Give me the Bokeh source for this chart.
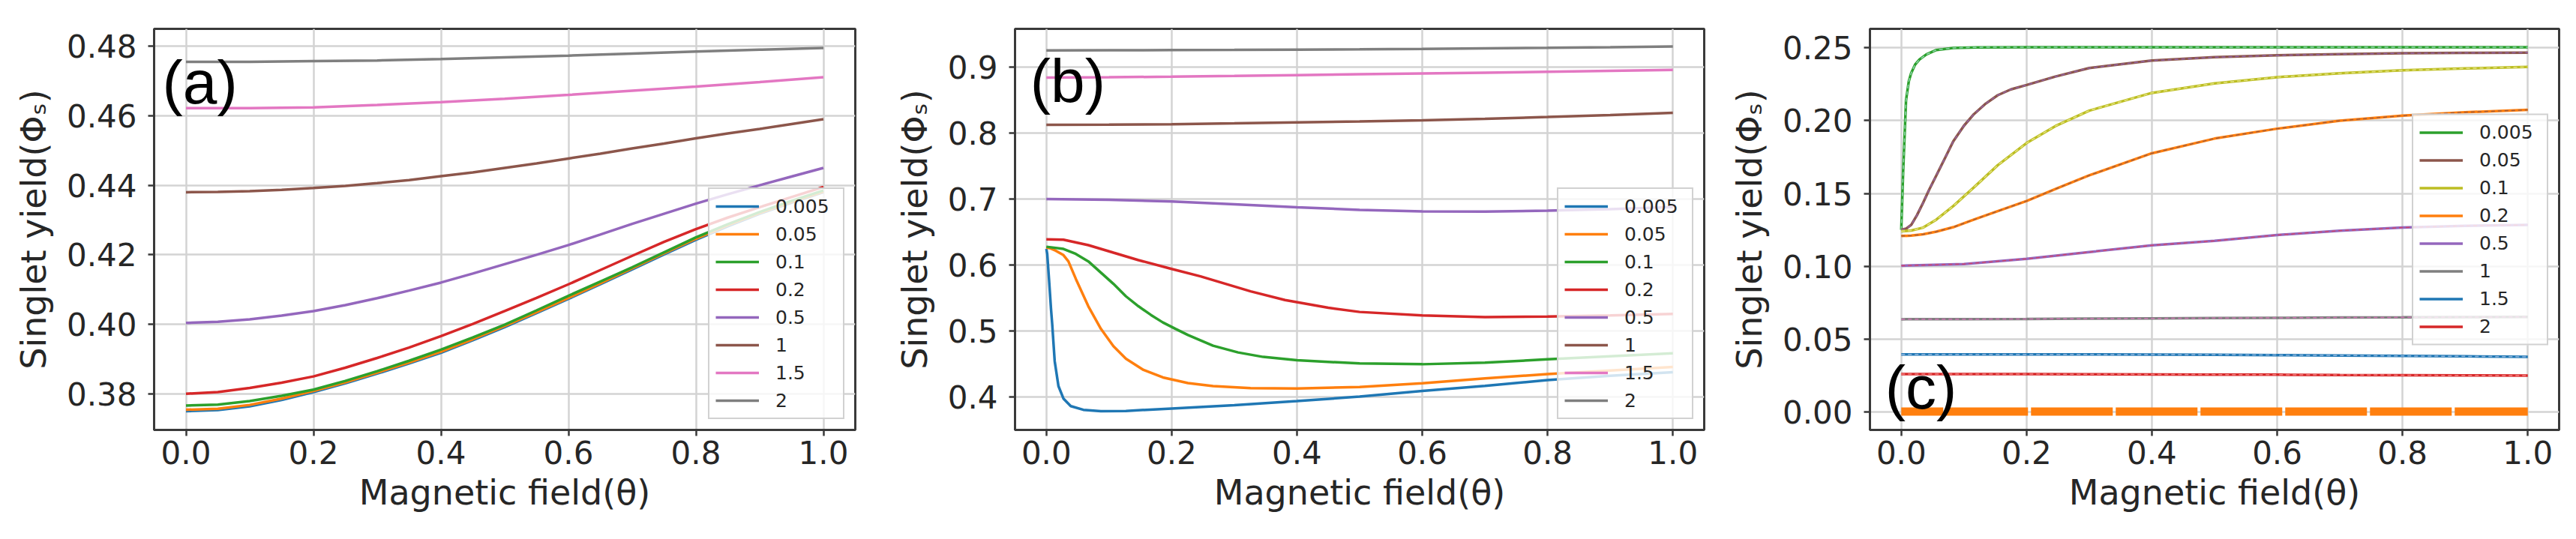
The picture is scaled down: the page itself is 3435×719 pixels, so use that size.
from bokeh.plotting import figure
from bokeh.layouts import row
from bokeh.models import Range1d, FixedTicker, PrintfTickFormatter, Legend, LegendItem, Label
from bokeh.embed import file_html
from bokeh.resources import INLINE

# ---------------- data ----------------
series_labels = ["0.005", "0.05", "0.1", "0.2", "0.5", "1", "1.5", "2"]
x_ticks = [0.0, 0.2, 0.4, 0.6, 0.8, 1.0]

# panel (a)
xa = [0.0, 0.05, 0.1, 0.15, 0.2, 0.25, 0.3, 0.35, 0.4, 0.45, 0.5, 0.55, 0.6, 0.65,
      0.7, 0.75, 0.8, 0.85, 0.9, 0.95, 1.0]
a_0005 = [0.3750, 0.3753, 0.3764, 0.3782, 0.3805, 0.3830, 0.3858, 0.3887, 0.3918, 0.3954,
          0.3992, 0.4032, 0.4073, 0.4115, 0.4158, 0.4201, 0.4243, 0.4282, 0.4318, 0.4350, 0.4380]
a_005 = [0.3754, 0.3757, 0.3768, 0.3786, 0.3808, 0.3833, 0.3861, 0.3890, 0.3921, 0.3957,
         0.3995, 0.4035, 0.4076, 0.4118, 0.4161, 0.4204, 0.4246, 0.4285, 0.4320, 0.4352, 0.4382]
a_01 = [0.3766, 0.3769, 0.3779, 0.3794, 0.3812, 0.3837, 0.3865, 0.3895, 0.3927, 0.3962,
        0.3999, 0.4040, 0.4082, 0.4123, 0.4164, 0.4207, 0.4250, 0.4288, 0.4323, 0.4355, 0.4385]
a_02 = [0.3800, 0.3805, 0.3817, 0.3832, 0.3850, 0.3875, 0.3903, 0.3933, 0.3966, 0.4001,
        0.4038, 0.4076, 0.4115, 0.4156, 0.4197, 0.4237, 0.4274, 0.4307, 0.4337, 0.4366, 0.4395]
a_05 = [0.4004, 0.4007, 0.4014, 0.4025, 0.4038, 0.4055, 0.4075, 0.4097, 0.4120, 0.4146,
        0.4173, 0.4200, 0.4228, 0.4258, 0.4289, 0.4318, 0.4347, 0.4374, 0.4400, 0.4425, 0.4450]
a_1 = [0.4380, 0.4381, 0.4383, 0.4387, 0.4392, 0.4398, 0.4406, 0.4415, 0.4426, 0.4437,
       0.4450, 0.4463, 0.4477, 0.4491, 0.4506, 0.4520, 0.4535, 0.4549, 0.4562, 0.4576, 0.4590]
xa_coarse = [0.0, 0.1, 0.2, 0.3, 0.4, 0.5, 0.6, 0.7, 0.8, 0.9, 1.0]
a_15 = [0.4622, 0.4622, 0.4624, 0.4631, 0.4639, 0.4649, 0.4660, 0.4672, 0.4684, 0.4697, 0.4711]
a_2 = [0.4755, 0.4755, 0.4757, 0.4759, 0.4763, 0.4768, 0.4773, 0.4779, 0.4785, 0.4790, 0.4795]
a_yticks = [0.38, 0.40, 0.42, 0.44, 0.46, 0.48]

# panel (b)
xb_blue = [0.0, 0.0014, 0.0042, 0.0074, 0.0093, 0.0133, 0.0193, 0.0273, 0.039, 0.059,
           0.087, 0.127, 0.2, 0.3, 0.4, 0.5, 0.6, 0.7, 0.8, 0.9, 1.0]
b_0005 = [0.6247, 0.6170, 0.5794, 0.5340, 0.5113, 0.4547, 0.4169, 0.3980, 0.3866, 0.3810,
          0.3790, 0.3793, 0.3829, 0.3880, 0.3942, 0.4010, 0.4095, 0.4172, 0.4260, 0.4325, 0.4380]
xb_orange = [0.0, 0.0068, 0.015, 0.0273, 0.0352, 0.047, 0.067, 0.087, 0.107, 0.127, 0.155,
             0.186, 0.226, 0.266, 0.326, 0.4, 0.5, 0.6, 0.7, 0.8, 0.9, 1.0]
b_005 = [0.6266, 0.6255, 0.6220, 0.6153, 0.6058, 0.5794, 0.5378, 0.5037, 0.4773, 0.4584,
         0.4414, 0.4300, 0.4214, 0.4169, 0.4138, 0.4133, 0.4155, 0.4212, 0.4285, 0.4352,
         0.4405, 0.4458]
xb_green = [0.0, 0.0273, 0.047, 0.067, 0.087, 0.107, 0.127, 0.147, 0.167, 0.186, 0.206,
            0.226, 0.266, 0.306, 0.346, 0.4, 0.5, 0.6, 0.7, 0.8, 0.9, 1.0]
b_01 = [0.6280, 0.6247, 0.6171, 0.6058, 0.5888, 0.5718, 0.5529, 0.5378, 0.5246, 0.5133,
        0.5037, 0.4943, 0.4781, 0.4679, 0.4611, 0.4560, 0.4512, 0.4500, 0.4525, 0.4574,
        0.4620, 0.4667]
xb_red = [0.0, 0.0273, 0.067, 0.107, 0.147, 0.2, 0.246, 0.286, 0.326, 0.381, 0.45, 0.5,
          0.6, 0.7, 0.8, 0.9, 1.0]
b_02 = [0.6391, 0.6387, 0.6304, 0.6190, 0.6077, 0.5944, 0.5831, 0.5718, 0.5604, 0.5473,
        0.5355, 0.5292, 0.5239, 0.5213, 0.5223, 0.5240, 0.5262]
xb_coarse = [0.0, 0.1, 0.2, 0.3, 0.4, 0.5, 0.6, 0.7, 0.8, 0.9, 1.0]
b_05 = [0.7003, 0.6990, 0.6965, 0.6922, 0.6878, 0.6838, 0.6814, 0.6812, 0.6825, 0.6850, 0.6880]
b_1 = [0.8126, 0.8129, 0.8135, 0.8148, 0.8163, 0.8177, 0.8194, 0.8218, 0.8245, 0.8275, 0.8307]
b_15 = [0.8843, 0.8848, 0.8855, 0.8867, 0.8880, 0.8893, 0.8905, 0.8917, 0.8930, 0.8944, 0.8958]
b_2 = [0.9254, 0.9255, 0.9258, 0.9261, 0.9265, 0.9270, 0.9277, 0.9285, 0.9293, 0.9302, 0.9312]
b_yticks = [0.4, 0.5, 0.6, 0.7, 0.8, 0.9]

# panel (c)
xc_green = [0.0, 0.003, 0.0076, 0.012, 0.0157, 0.022, 0.029, 0.04, 0.056, 0.083, 0.12,
            0.2, 0.4, 0.6, 0.8, 1.0]
c_0005 = [0.1250, 0.1650, 0.2140, 0.2270, 0.2326, 0.2385, 0.2420, 0.2455, 0.2486, 0.2500,
          0.2504, 0.2505, 0.2505, 0.2505, 0.2505, 0.2505]
xc_brown = [0.0, 0.008, 0.016, 0.025, 0.035, 0.045, 0.056, 0.07, 0.083, 0.1, 0.116, 0.135,
            0.154, 0.175, 0.2, 0.246, 0.3, 0.4, 0.5, 0.6, 0.7, 0.8, 0.9, 1.0]
c_005 = [0.1250, 0.1258, 0.1284, 0.1350, 0.1437, 0.1530, 0.1624, 0.1745, 0.1858, 0.1965,
         0.2045, 0.2118, 0.2175, 0.2215, 0.2245, 0.2303, 0.2362, 0.2413, 0.2436, 0.2449,
         0.2457, 0.2463, 0.2466, 0.2467]
xc_mid = [0.0, 0.016, 0.035, 0.056, 0.083, 0.116, 0.154, 0.2, 0.246, 0.3, 0.4, 0.5,
          0.6, 0.7, 0.8, 0.9, 1.0]
c_01 = [0.1240, 0.1245, 0.1265, 0.1320, 0.1413, 0.1542, 0.1694, 0.1846, 0.1963, 0.2069,
        0.2191, 0.2256, 0.2299, 0.2326, 0.2346, 0.2359, 0.2369]
c_02 = [0.1207, 0.1210, 0.1219, 0.1237, 0.1268, 0.1320, 0.1378, 0.1448, 0.1530, 0.1624,
        0.1776, 0.1877, 0.1945, 0.2000, 0.2034, 0.2058, 0.2074]
xc_coarse = [0.0, 0.1, 0.2, 0.3, 0.4, 0.5, 0.6, 0.7, 0.8, 0.9, 1.0]
c_05 = [0.1003, 0.1015, 0.1050, 0.1097, 0.1143, 0.1174, 0.1214, 0.1244, 0.1265, 0.1277, 0.1284]
c_1 = [0.0635, 0.0636, 0.0637, 0.0639, 0.0641, 0.0643, 0.0645, 0.0647, 0.0648, 0.0650, 0.0651]
c_15 = [0.0393, 0.0393, 0.0393, 0.0393, 0.0392, 0.0391, 0.0389, 0.0386, 0.0383, 0.0380, 0.0377]
c_2 = [0.0258, 0.0258, 0.0258, 0.0257, 0.0256, 0.0255, 0.0254, 0.0252, 0.0251, 0.0249, 0.0248]
xc_zero = [0.0, 1.0]
c_zero = [0.0, 0.0]
c_yticks = [0.00, 0.05, 0.10, 0.15, 0.20, 0.25]

# ---------------- style ----------------
FONT = "DejaVu Sans"
TXT = "#262626"
SPINE = "#3a3a3a"
tab = {"blue": "#1f77b4", "orange": "#ff7f0e", "green": "#2ca02c", "red": "#d62728",
       "purple": "#9467bd", "brown": "#8c564b", "pink": "#e377c2", "gray": "#7f7f7f",
       "olive": "#bcbd22"}
ab_colors = [tab["blue"], tab["orange"], tab["green"], tab["red"], tab["purple"],
             tab["brown"], tab["pink"], tab["gray"]]
c_colors = [tab["green"], tab["brown"], tab["olive"], tab["orange"], tab["purple"],
            tab["gray"], tab["blue"], tab["red"]]
c_dash_colors = ["#a8e6cf", "#9467bd", "#eeee99", "#8c564b", "#e0405a", "#e377c2",
                 "#aec7e8", "#ff9896"]


def make_fig(width, left, right, top, bottom, yr, yticks, yfmt):
    p = figure(width=width, height=703, output_backend="svg", toolbar_location=None,
               x_range=Range1d(-0.05, 1.05), y_range=Range1d(yr[0], yr[1]),
               min_border_left=left, min_border_right=right,
               min_border_top=top, min_border_bottom=bottom)
    p.background_fill_color = "white"
    p.border_fill_color = "white"
    p.outline_line_color = SPINE
    p.outline_line_width = 3
    p.xaxis.ticker = FixedTicker(ticks=x_ticks)
    p.xaxis.formatter = PrintfTickFormatter(format="%.1f")
    p.yaxis.ticker = FixedTicker(ticks=yticks)
    p.yaxis.formatter = PrintfTickFormatter(format=yfmt)
    for ax in (p.xaxis[0], p.yaxis[0]):
        ax.axis_line_color = SPINE
        ax.axis_line_width = 3
        ax.major_tick_out = 8
        ax.major_tick_in = 0
        ax.major_tick_line_width = 2.5
        ax.major_tick_line_color = SPINE
        ax.minor_tick_line_color = None
        ax.major_label_text_font = FONT
        ax.major_label_text_font_size = "42px"
        ax.major_label_text_color = TXT
        ax.axis_label_text_font = FONT
        ax.axis_label_text_font_size = "46px"
        ax.axis_label_text_font_style = "normal"
        ax.axis_label_text_color = TXT
    p.xaxis.axis_label = "Magnetic field(θ)"
    p.yaxis.axis_label = "Singlet yield(Φₛ)"
    p.xaxis.major_label_standoff = 6
    p.xaxis.axis_label_standoff = 8
    p.yaxis.major_label_standoff = 15
    p.yaxis.axis_label_standoff = 14
    p.grid.grid_line_color = "#d3d3d3"
    p.grid.grid_line_width = 2.5
    return p


def add_legend(p, items, location):
    leg = Legend(items=items, location=location, margin=14, padding=8, spacing=7,
                 glyph_width=58, glyph_height=30, label_height=30, label_width=82,
                 label_standoff=22, label_text_font=FONT, label_text_font_size="25px",
                 label_text_color=TXT, background_fill_color="white",
                 background_fill_alpha=0.8, border_line_color="#cccccc",
                 border_line_width=2, border_line_alpha=0.9)
    p.add_layout(leg)


def add_tag(p, text, x, y):
    p.add_layout(Label(x=x, y=y, text=text, text_font="Liberation Sans",
                       text_font_size="82px", text_color="black",
                       text_align="left", text_baseline="alphabetic"))


# ---------------- panel (a) ----------------
pa = make_fig(1147, 205, 7, 26, 128, (0.3696, 0.4850), a_yticks, "%.2f")
a_series = [(xa, a_0005), (xa, a_005), (xa, a_01), (xa, a_02), (xa, a_05), (xa, a_1),
            (xa_coarse, a_15), (xa_coarse, a_2)]
items = []
for lab, (xs, ys), col in zip(series_labels, a_series, ab_colors):
    r = pa.line(xs, ys, line_color=col, line_width=3.5)
    items.append(LegendItem(label=lab, renderers=[r]))
add_legend(pa, items, "bottom_right")
add_tag(pa, "(a)", -0.037, 0.4697)

# ---------------- panel (b) ----------------
pb = make_fig(1135, 206, 10, 38, 129, (0.3505, 0.9580), b_yticks, "%.1f")
b_series = [(xb_blue, b_0005), (xb_orange, b_005), (xb_green, b_01), (xb_red, b_02),
            (xb_coarse, b_05), (xb_coarse, b_1), (xb_coarse, b_15), (xb_coarse, b_2)]
items = []
for lab, (xs, ys), col in zip(series_labels, b_series, ab_colors):
    r = pb.line(xs, ys, line_color=col, line_width=3.5)
    items.append(LegendItem(label=lab, renderers=[r]))
add_legend(pb, items, "bottom_right")
add_tag(pb, "(b)", -0.0257, 0.8802)

# ---------------- panel (c) ----------------
pc = make_fig(1137, 211, 7, 33, 130, (-0.01256, 0.2631), c_yticks, "%.2f")
pc.line(xc_zero, c_zero, line_color=tab["orange"], line_width=11,
        line_dash="109 4", line_dash_offset=53)
c_series = [(xc_green, c_0005), (xc_brown, c_005), (xc_mid, c_01), (xc_mid, c_02),
            (xc_coarse, c_05), (xc_coarse, c_1), (xc_coarse, c_15), (xc_coarse, c_2)]
items = []
for lab, (xs, ys), col, dcol in zip(series_labels, c_series, c_colors, c_dash_colors):
    r = pc.line(xs, ys, line_color=col, line_width=3.5)
    pc.line(xs, ys, line_color=dcol, line_width=1.5, line_dash="5 4", line_alpha=0.8)
    items.append(LegendItem(label=lab, renderers=[r]))
add_legend(pc, items, "center_right")
add_tag(pc, "(c)", -0.0257, 0.01706)

layout = row(pa, pb, pc, spacing=0)
open("out.html", "w").write(file_html(layout, INLINE))
